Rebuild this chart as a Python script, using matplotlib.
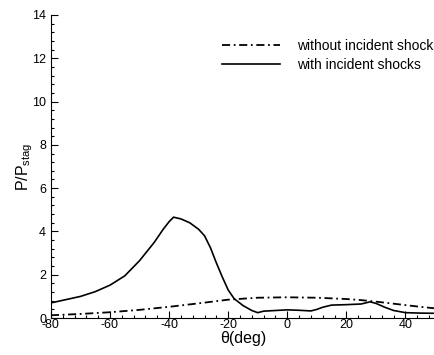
import numpy as np
import matplotlib
matplotlib.use("Agg")
import matplotlib.pyplot as plt
from matplotlib.ticker import MultipleLocator

plt.rcParams['font.family'] = ['Liberation Sans', 'DejaVu Sans']
plt.rcParams['axes.unicode_minus'] = False

# pressure ratio along the surface
theta_with = [-80, -75, -70, -65, -60, -55, -50, -45, -42, -40, -38.5, -36, -33, -30, -28,
              -26, -24, -22, -20, -18, -15, -12, -10, -8, -4, 0, 4, 8, 10, 12, 15,
              20, 25, 28, 30, 33, 36, 40, 45, 50]
p_with = [0.70, 0.85, 1.00, 1.22, 1.52, 1.95, 2.65, 3.50, 4.10, 4.45, 4.66, 4.58, 4.40, 4.10, 3.80,
          3.25, 2.55, 1.90, 1.30, 0.90, 0.58, 0.35, 0.25, 0.32, 0.35, 0.38, 0.36, 0.33, 0.40, 0.50, 0.60,
          0.62, 0.65, 0.75, 0.68, 0.50, 0.35, 0.25, 0.23, 0.22]

theta_without = [-80, -70, -60, -50, -40, -30, -20, -10, 0, 10, 20, 25, 30, 35, 40, 45, 50]
p_without = [0.13, 0.19, 0.27, 0.38, 0.52, 0.68, 0.85, 0.94, 0.96, 0.94, 0.88, 0.83, 0.76, 0.68, 0.60, 0.52, 0.45]

fig = plt.figure(figsize=(4.35, 3.55), dpi=100)
ax = fig.add_axes([0.117, 0.104, 0.883, 0.854])

ax.plot(theta_without, p_without, color='black', lw=1.3,
        dashes=(4.5, 2, 1, 2), label='without incident shock')
ax.plot(theta_with, p_with, color='black', lw=1.2, label='with incident shocks')

ax.set_xlim(-80, 50)
ax.set_ylim(0, 14)
ax.xaxis.set_major_locator(MultipleLocator(20))
ax.xaxis.set_minor_locator(MultipleLocator(4))
ax.yaxis.set_major_locator(MultipleLocator(2))
ax.yaxis.set_minor_locator(MultipleLocator(0.4))
ax.tick_params(which='both', direction='in', labelsize=9)
ax.tick_params(axis='x', pad=1)
ax.tick_params(axis='y', pad=3.5)
ax.tick_params(which='major', length=5, width=0.8)
ax.tick_params(which='minor', length=2.5, width=0.8)
ax.spines['top'].set_visible(False)
ax.spines['right'].set_visible(False)

ax.set_xlabel('θ(deg)', fontsize=11.5, labelpad=0)
ax.set_ylabel(r'P/P$_{\mathregular{stag}}$', fontsize=11.5, labelpad=-2)

ax.legend(loc='upper right', bbox_to_anchor=(0.995, 0.92), frameon=False,
          fontsize=10, handlelength=4.2, handletextpad=1.2, labelspacing=0.35,
          borderpad=0, borderaxespad=0)

fig.savefig('out.png', dpi=100)
